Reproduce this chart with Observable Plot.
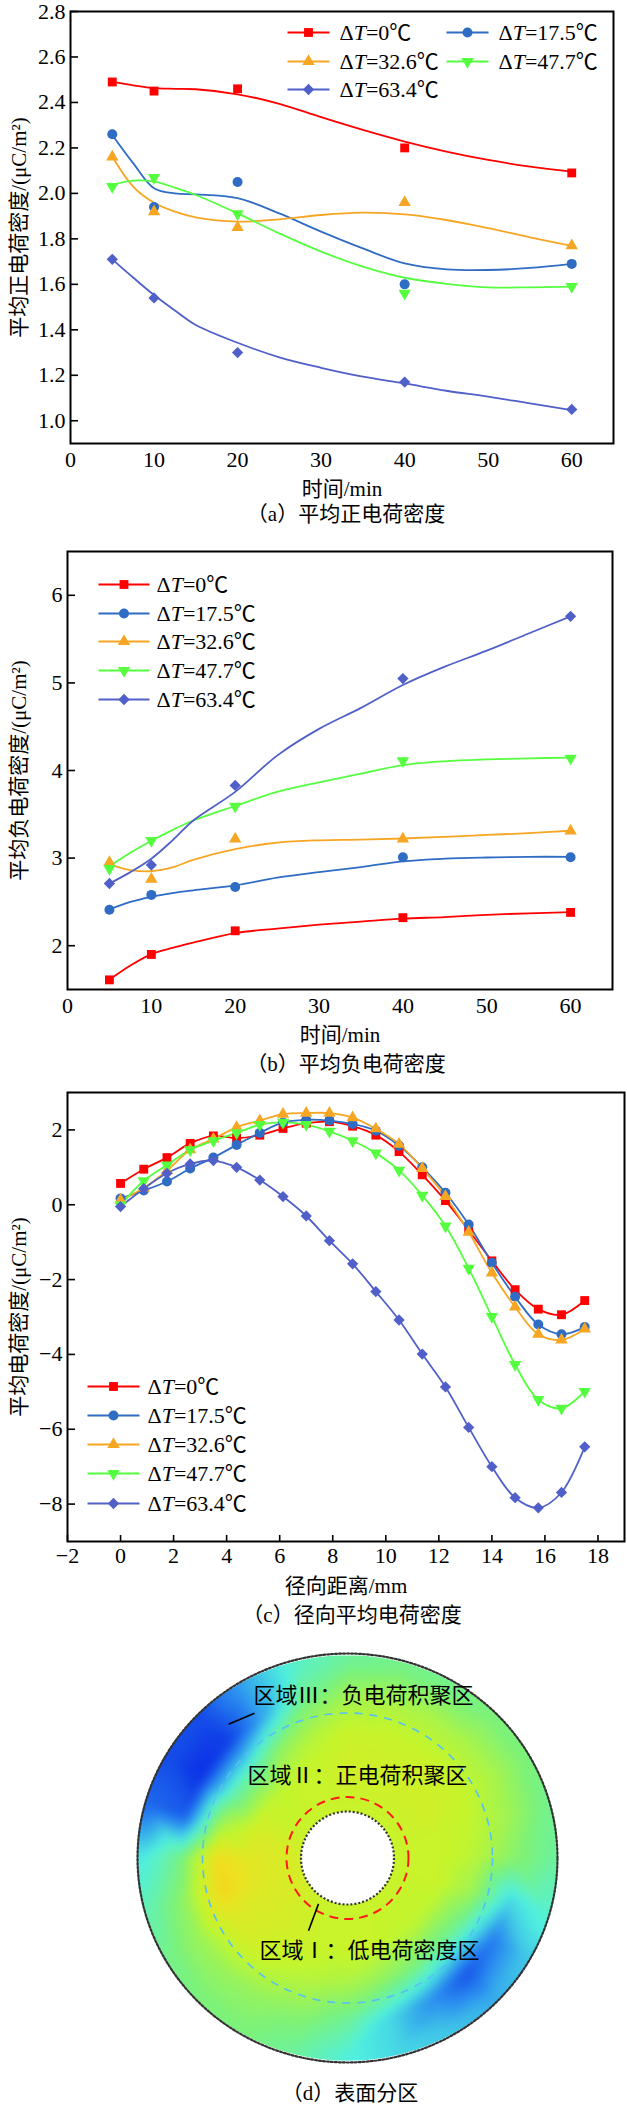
<!DOCTYPE html>
<html>
<head>
<meta charset="utf-8">
<script src="https://cdn.jsdelivr.net/npm/d3@7"></script>
<script src="https://cdn.jsdelivr.net/npm/@observablehq/plot@0.6"></script>
<style>
  html, body { margin: 0; padding: 0; background: #fff; }
  #root { position: relative; width: 627px; height: 2107px; overflow: hidden; background: #fff; }
  .panel { position: absolute; left: 0; }
  .panel svg { overflow: hidden; display: block; }
  .cap { position: absolute; transform: translate(-50%, -50%); white-space: nowrap; font-size: 21px;
         font-family: "Liberation Serif", "Noto Sans CJK SC", serif; color: #000; line-height: 22px; }
</style>
</head>
<body>
<div id="root"></div>
<script>
// ================= DATA =================
const seriesNames = ["ΔT=0℃", "ΔT=17.5℃", "ΔT=32.6℃", "ΔT=47.7℃", "ΔT=63.4℃"];

// (a) mean positive charge density, measured points
const timeMin = [5, 10, 20, 40, 60];
const posMeasured = [
  [2.49, 2.45, 2.46, 2.20, 2.09],
  [2.26, 1.94, 2.05, 1.60, 1.69],
  [2.16, 1.92, 1.85, 1.96, 1.77],
  [2.03, 2.07, 1.91, 1.56, 1.59],
  [1.71, 1.54, 1.30, 1.17, 1.05]
];
// (a) fitted curves
const fitTime = [5, 7.5, 10, 12.5, 15, 20, 25, 30, 35, 40, 45, 50, 55, 60];
const posFit = [
  [2.49, 2.475, 2.463, 2.46, 2.458, 2.436, 2.394, 2.335, 2.279, 2.228, 2.184, 2.147, 2.118, 2.096],
  [2.257, 2.133, 2.023, 2.0, 1.996, 1.979, 1.912, 1.832, 1.758, 1.692, 1.666, 1.663, 1.672, 1.69],
  [2.162, 2.03, 1.959, 1.92, 1.895, 1.876, 1.886, 1.905, 1.915, 1.908, 1.883, 1.847, 1.807, 1.769],
  [2.037, 2.056, 2.052, 2.025, 1.993, 1.912, 1.824, 1.744, 1.678, 1.629, 1.602, 1.587, 1.587, 1.59],
  [1.71, 1.63, 1.553, 1.485, 1.421, 1.343, 1.279, 1.233, 1.194, 1.164, 1.132, 1.106, 1.076, 1.047]
];

// (b) mean negative charge density
const negMeasured = [
  [1.61, 1.90, 2.17, 2.32, 2.38],
  [2.41, 2.58, 2.67, 3.01, 3.01],
  [2.95, 2.76, 3.22, 3.22, 3.31],
  [2.88, 3.20, 3.59, 4.11, 4.14],
  [2.71, 2.92, 3.83, 5.05, 5.76]
];
const negFit = [
  [1.612, 1.773, 1.904, 1.975, 2.035, 2.144, 2.196, 2.24, 2.275, 2.309, 2.327, 2.353, 2.37, 2.383],
  [2.414, 2.50, 2.558, 2.60, 2.632, 2.688, 2.776, 2.841, 2.898, 2.963, 2.993, 3.007, 3.015, 3.015],
  [2.928, 2.863, 2.85, 2.893, 2.98, 3.102, 3.176, 3.203, 3.211, 3.224, 3.242, 3.264, 3.285, 3.312],
  [2.906, 3.06, 3.198, 3.32, 3.429, 3.595, 3.756, 3.865, 3.965, 4.061, 4.105, 4.126, 4.139, 4.148],
  [2.71, 2.84, 2.993, 3.2, 3.429, 3.756, 4.17, 4.475, 4.715, 4.976, 5.185, 5.368, 5.564, 5.76]
];

// (c) radial mean charge density
const radialMm = [0, 0.875, 1.75, 2.625, 3.5, 4.375, 5.25, 6.125, 7, 7.875, 8.75, 9.625,
                  10.5, 11.375, 12.25, 13.125, 14, 14.875, 15.75, 16.625, 17.5];
const radialDensity = [
  [0.57, 0.95, 1.26, 1.64, 1.84, 1.78, 1.86, 2.04, 2.18, 2.22, 2.10, 1.86, 1.42, 0.80, 0.11, -0.68, -1.50, -2.27, -2.79, -2.94, -2.56],
  [0.17, 0.38, 0.62, 0.97, 1.26, 1.60, 1.92, 2.20, 2.27, 2.25, 2.16, 1.98, 1.58, 1.00, 0.32, -0.53, -1.55, -2.46, -3.20, -3.46, -3.27],
  [0.12, 0.45, 0.91, 1.47, 1.76, 2.07, 2.25, 2.42, 2.45, 2.45, 2.33, 2.03, 1.62, 0.97, 0.22, -0.73, -1.82, -2.73, -3.46, -3.61, -3.32],
  [-0.01, 0.64, 1.06, 1.47, 1.71, 1.92, 2.14, 2.20, 2.14, 1.96, 1.71, 1.38, 0.92, 0.25, -0.57, -1.70, -2.99, -4.27, -5.21, -5.44, -4.99],
  [-0.05, 0.43, 0.84, 1.09, 1.18, 1.00, 0.66, 0.22, -0.30, -0.96, -1.58, -2.32, -3.08, -3.99, -4.87, -5.95, -7.00, -7.83, -8.10, -7.69, -6.47]
];

// tick labels
const timeTicks = [0, 10, 20, 30, 40, 50, 60];
const posTicks = [1.0, 1.2, 1.4, 1.6, 1.8, 2.0, 2.2, 2.4, 2.6, 2.8];
const negTicks = [2, 3, 4, 5, 6];
const radialXTicks = [-2, 0, 2, 4, 6, 8, 10, 12, 14, 16, 18];
const radialYTicks = [-8, -6, -4, -2, 0, 2];

// (d) surface map: charge level read on a polar grid (angle in degrees, radius as fraction of the rim)
const diskAngles = [0, 15, 30, 45, 60, 75, 90, 105, 120, 135, 150, 165, 180, 195, 210, 225, 240, 255, 270, 285, 300, 315, 330, 345];
const diskRadii = [0.25, 0.45, 0.62, 0.8, 0.97];
const diskLevels = [
  [0.3, 0.3, 0.3, 0.3, 0.3, 0.3, 0.3, 0.3, 0.3, 0.3, 0.3, 0.35, 0.4, 0.4, 0.4, 0.35, 0.3, 0.3, 0.3, 0.3, 0.3, 0.3, 0.3, 0.3],
  [0.3, 0.3, 0.35, 0.35, 0.35, 0.35, 0.35, 0.3, 0.3, 0.25, 0.3, 0.4, 0.47, 0.47, 0.42, 0.38, 0.35, 0.3, 0.3, 0.3, 0.25, 0.25, 0.25, 0.3],
  [0.2, 0.25, 0.3, 0.3, 0.3, 0.3, 0.3, 0.2, 0.05, -0.2, -0.2, 0.15, 0.6, 0.65, 0.42, 0.35, 0.25, 0.2, 0.15, 0.05, -0.05, -0.15, -0.1, 0.1],
  [0.0, 0.1, 0.15, 0.15, 0.15, 0.15, 0.1, -0.1, -0.6, -0.95, -1.0, -0.85, -0.1, 0.05, 0.1, 0.08, 0.05, 0.0, -0.15, -0.45, -0.68, -0.88, -0.75, -0.45],
  [-0.15, -0.1, -0.05, -0.05, -0.1, -0.1, -0.15, -0.3, -0.6, -0.9, -0.9, -0.8, -0.38, -0.22, -0.1, -0.05, -0.05, -0.15, -0.35, -0.45, -0.5, -0.58, -0.5, -0.3]
];
const zoneLabels = ["区域Ⅲ：负电荷积聚区", "区域Ⅱ：正电荷积聚区", "区域Ⅰ：低电荷密度区"];
const captions = ["（a）平均正电荷密度", "（b）平均负电荷密度", "（c）径向平均电荷密度", "（d）表面分区"];

// ================= STYLE =================
const FONT = '"Liberation Serif","Noto Sans CJK SC",serif';
const seriesStyle = [
  {color: "#ff0000", symbol: "square", r: 5, rotate: 0},
  {color: "#2f6cc4", symbol: "circle", r: 5, rotate: 0},
  {color: "#f6a623", symbol: "triangle", r: 4.6, rotate: 0},
  {color: "#55ff3f", symbol: "triangle", r: 4.6, rotate: 180},
  {color: "#5060c8", symbol: "square", r: 4.5, rotate: 45}
];
const intFmt = d => (d < 0 ? "\u2212" + Math.abs(d) : String(d));
const root = document.getElementById("root");

function italicT(svg) {
  for (const t of svg.querySelectorAll("text")) {
    const s = t.textContent;
    if (s.startsWith("ΔT")) {
      t.textContent = "";
      t.append("Δ");
      const ts = document.createElementNS("http://www.w3.org/2000/svg", "tspan");
      ts.setAttribute("font-style", "italic");
      ts.textContent = "T";
      t.append(ts);
      t.append(s.slice(2));
    }
  }
}

function linePanel(p) {
  const W = 627;
  const fx = (W - p.ml - p.mr) / (p.xDomain[1] - p.xDomain[0]);
  const fy = (p.height - p.mt - p.mb) / (p.yDomain[1] - p.yDomain[0]);
  const invX = px => p.xDomain[0] + (px - p.ml) / fx;
  const invY = py => p.yDomain[1] - (py - p.mt) / fy;
  const frameBottom = p.height - p.mb;
  const midX = (p.xDomain[0] + p.xDomain[1]) / 2, midY = (p.yDomain[0] + p.yDomain[1]) / 2;
  const marks = [];
  marks.push(Plot.axisY(p.yTicks, {tickSize: 0, tickPadding: 5, fontSize: 22, tickFormat: p.yFmt, label: null}));
  marks.push(Plot.axisX(p.xTicks, {tickSize: 0, tickPadding: p.xPad, fontSize: 22, tickFormat: intFmt, label: null}));
  marks.push(Plot.ruleY(p.yTicks, {y: d => d, x1: p.xDomain[0], x2: p.xDomain[0] + 8 / fx, stroke: "black", strokeWidth: 1.6}));
  if (p.xInner) marks.push(Plot.ruleX(p.xTicks, {x: d => d, y1: p.yDomain[0], y2: p.yDomain[0] + 6 / fy, stroke: "black", strokeWidth: 1.6}));
  if (p.fits) p.fits.forEach((ys, i) => marks.push(Plot.line(p.fitX.map((x, j) => ({x, y: ys[j]})),
      {x: "x", y: "y", stroke: seriesStyle[i].color, strokeWidth: 1.8, curve: "catmull-rom"})));
  if (p.linesThroughPts) p.pts.forEach((ys, i) => marks.push(Plot.line(p.ptX.map((x, j) => ({x, y: ys[j]})),
      {x: "x", y: "y", stroke: seriesStyle[i].color, strokeWidth: 1.8, curve: "catmull-rom"})));
  p.pts.forEach((ys, i) => {
    const st = seriesStyle[i];
    marks.push(Plot.dot(p.ptX.map((x, j) => ({x, y: ys[j]})),
      {x: "x", y: "y", symbol: st.symbol, fill: st.color, r: st.r, rotate: st.rotate}));
  });
  // legend
  p.legend.items.forEach(([lx, ly], i) => {
    const st = seriesStyle[i];
    marks.push(Plot.link([{x1: invX(lx), x2: invX(lx + p.legend.len), y: invY(ly)}],
      {x1: "x1", x2: "x2", y1: "y", y2: "y", stroke: st.color, strokeWidth: 1.8}));
    marks.push(Plot.dot([{x: invX(lx + p.legend.len / 2), y: invY(ly)}],
      {x: "x", y: "y", symbol: st.symbol, fill: st.color, r: st.r, rotate: st.rotate}));
    marks.push(Plot.text([{x: invX(lx + p.legend.textDx), y: invY(ly), t: seriesNames[i]}],
      {x: "x", y: "y", text: "t", textAnchor: "start", fontSize: 22, fill: "black"}));
  });
  marks.push(Plot.frame({stroke: "black", strokeWidth: 2}));
  marks.push(Plot.text([{t: p.xTitle, x: midX, y: invY(frameBottom + p.xTitleDy)}],
    {x: "x", y: "y", text: "t", textAnchor: "middle", fontSize: 21, fill: "black"}));
  marks.push(Plot.text([{t: p.yTitle, x: invX(p.yTitleX), y: midY}],
    {x: "x", y: "y", text: "t", textAnchor: "middle", rotate: -90, fontSize: 21, fill: "black"}));
  const svg = Plot.plot({
    width: W, height: p.height,
    marginTop: p.mt, marginBottom: p.mb, marginLeft: p.ml, marginRight: p.mr,
    x: {domain: p.xDomain}, y: {domain: p.yDomain},
    style: {fontFamily: FONT, fontSize: "22px", color: "black", background: "white", overflow: "hidden"},
    marks
  });
  italicT(svg);
  const div = document.createElement("div");
  div.className = "panel";
  div.style.top = p.top + "px";
  div.appendChild(svg);
  root.appendChild(div);
}

// (a)
linePanel({
  top: 0, height: 505, mt: 11, mb: 62, ml: 70, mr: 14,
  xDomain: [0, 65], yDomain: [0.9, 2.8],
  xTicks: timeTicks, yTicks: posTicks, yFmt: d3.format(".1f"), xPad: 8,
  ptX: timeMin, pts: posMeasured, fitX: fitTime, fits: posFit,
  xTitle: "时间/min", yTitle: "平均正电荷密度/(μC/m²)", xTitleDy: 46, yTitleX: 19,
  legend: {items: [[287, 32], [446, 32], [287, 61], [446, 61], [287, 89]], len: 42, textDx: 52}
});
// (b)
linePanel({
  top: 540, height: 512, mt: 11, mb: 63, ml: 67, mr: 15,
  xDomain: [0, 65], yDomain: [1.5, 6.5],
  xTicks: timeTicks, yTicks: negTicks, yFmt: intFmt, xPad: 8,
  ptX: timeMin, pts: negMeasured, fitX: fitTime, fits: negFit,
  xTitle: "时间/min", yTitle: "平均负电荷密度/(μC/m²)", xTitleDy: 46, yTitleX: 19,
  legend: {items: [[98, 44], [98, 73], [98, 101], [98, 130], [98, 159]], len: 51, textDx: 58}
});
// (c)
linePanel({
  top: 1070, height: 532, mt: 22, mb: 61, ml: 67, mr: 3,
  xDomain: [-2, 19], yDomain: [-9, 3],
  xTicks: radialXTicks, yTicks: radialYTicks, yFmt: intFmt, xPad: 6, xInner: true,
  ptX: radialMm, pts: radialDensity, linesThroughPts: true,
  xTitle: "径向距离/mm", yTitle: "平均电荷密度/(μC/m²)", xTitleDy: 45, yTitleX: 19,
  legend: {items: [[87, 316], [87, 345], [87, 374], [87, 403], [87, 433]], len: 52, textDx: 60}
});

// (d)
(function diskPanel() {
  const top = 1640, H = 440, mt = 13, mb = 18, ml = 137, mr = 70;
  const rad = a => a * Math.PI / 180;
  const pts = [];
  diskRadii.forEach((r, i) => diskAngles.forEach((a, j) =>
    pts.push({x: r * Math.cos(rad(a)), y: r * Math.sin(rad(a)), v: diskLevels[i][j]})));
  const ring = d3.range(0, 362, 2);
  const ellipse = k => ring.map(a => ({x: k * Math.cos(rad(a)), y: k * Math.sin(rad(a))}));
  // page pixel -> unit-disc coordinates (disc centre 347,1857; semi-axes 210 x 205)
  const ux = px => (px - 347) / 210, uy = py => (1857 - py) / 205;
  const labelPos = [[253, 1695], [247, 1775], [259, 1950]];
  const leaders = [[[254, 1712], [228, 1723]], [[318, 1903], [308, 1930]]];
  const jet = ["#0a2ee6", "#2a8cf0", "#50f0e0", "#7cf27a", "#c4f52c", "#f0e020", "#f0a010"];
  const svg = Plot.plot({
    width: 627, height: H, marginTop: mt, marginBottom: mb, marginLeft: ml, marginRight: mr,
    x: {domain: [-1, 1], axis: null}, y: {domain: [-1, 1], axis: null},
    color: {type: "linear", domain: [-1, 0.9], clamp: true, interpolate: d3.piecewise(d3.interpolateRgb, jet)},
    style: {fontFamily: FONT, background: "white", overflow: "hidden"},
    marks: [
      Plot.raster(pts, {x: "x", y: "y", fill: "v", interpolate: "barycentric", blur: 4}),
      Plot.line(ellipse(1.5), {x: "x", y: "y", stroke: "white", strokeWidth: 208}),
      Plot.line(ellipse(1), {x: "x", y: "y", stroke: "#333", strokeWidth: 2.2, strokeDasharray: "2,2"}),
      Plot.dot([{x: 0, y: 0}], {x: "x", y: "y", r: 46.5, fill: "white", stroke: "#333", strokeWidth: 2.2, strokeDasharray: "2,2"}),
      Plot.dot([{x: 0, y: 0}], {x: "x", y: "y", r: 145, fill: "none", stroke: "#56bff5", strokeWidth: 1.6, strokeDasharray: "8,7"}),
      Plot.dot([{x: 0, y: 0}], {x: "x", y: "y", r: 61, fill: "none", stroke: "#ff1a1a", strokeWidth: 2, strokeDasharray: "9,6"}),
      Plot.link(leaders.map(([a, b]) => ({x1: ux(a[0]), y1: uy(a[1]), x2: ux(b[0]), y2: uy(b[1])})),
        {x1: "x1", y1: "y1", x2: "x2", y2: "y2", stroke: "black", strokeWidth: 1.6}),
      Plot.text(zoneLabels.map((t, i) => ({t, x: ux(labelPos[i][0]), y: uy(labelPos[i][1])})),
        {x: "x", y: "y", text: "t", textAnchor: "start", fontSize: 22, fill: "black", fontFamily: "Noto Sans CJK SC"})
    ]
  });
  const div = document.createElement("div");
  div.className = "panel";
  div.style.top = top + "px";
  div.appendChild(svg);
  root.appendChild(div);
})();

// captions
const capPos = [[346, 514], [346, 1064], [352, 1615], [350, 2093]];
captions.forEach((c, i) => {
  const d = document.createElement("div");
  d.className = "cap";
  d.style.left = capPos[i][0] + "px";
  d.style.top = capPos[i][1] + "px";
  d.textContent = c;
  root.appendChild(d);
});
</script>
</body>
</html>
